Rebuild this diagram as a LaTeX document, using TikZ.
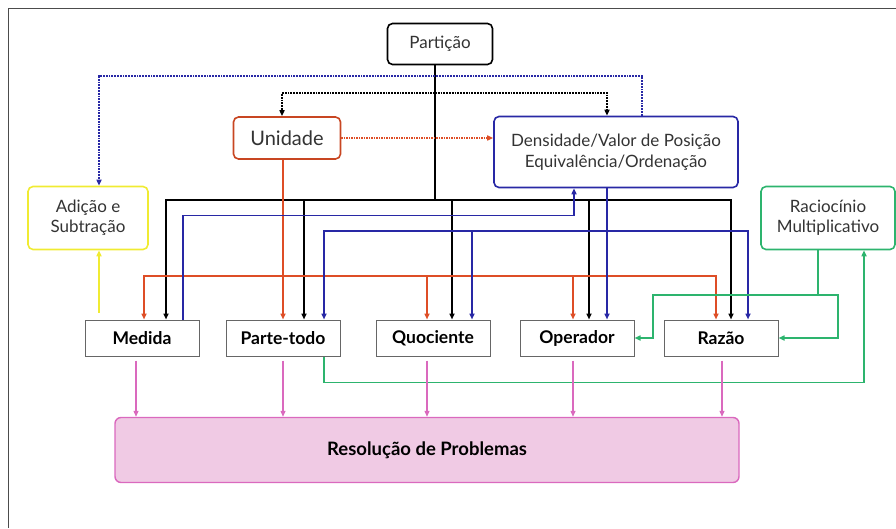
\documentclass[tikz,border=0pt]{standalone}
\usepackage{fontspec}
\setmainfont{Lato}
\usepackage{tikz}
\usetikzlibrary{arrows.meta, positioning}

\definecolor{vermelho}{RGB}{222,78,38}
\definecolor{azulesc}{RGB}{40,40,165}
\definecolor{amarelo}{RGB}{240,235,50}
\definecolor{verde}{RGB}{45,180,110}
\definecolor{rosa}{RGB}{218,105,190}
\definecolor{rosaclaro}{RGB}{240,202,228}

\tikzset{
  >={Triangle[length=6pt,width=5pt]},
  caixa/.style={draw, rounded corners=5pt, line width=1.6pt, align=center, text=black!80, font=\fontsize{17}{20}\selectfont},
  conceito/.style={draw=black!60, line width=1pt, minimum width=114pt, minimum height=36pt, font=\fontsize{17.5}{20}\selectfont\bfseries},
  preto/.style={black, line width=1.8pt},
  verm/.style={vermelho, line width=1.5pt},
  azul/.style={azulesc, line width=1.8pt},
  verd/.style={verde, line width=1.8pt},
  ros/.style={rosa, line width=1.2pt}
}

\begin{document}
\begin{tikzpicture}[x=1pt,y=1pt]
\useasboundingbox (0,0) rectangle (896,528);
\draw[black!70, line width=0.8pt] (8,0) -- (8,520) -- (896,520);

% caixas de cima
\node[caixa, minimum width=105pt, minimum height=41pt] at (440,484) (part) {Partição};
\node[caixa, draw=vermelho!90!black, minimum width=107pt, minimum height=42pt, font=\fontsize{20}{23}\selectfont] at (287,390) (unid) {Unidade};
\node[caixa, draw=azulesc, minimum width=244pt, minimum height=71pt] at (616,376) (dens) {Densidade/Valor de Posição\\[1pt]Equivalência/Ordenação};
\node[caixa, draw=amarelo, minimum width=120pt, minimum height=63pt] at (88,310) (adic) {Adição e\\Subtração};
\node[caixa, draw=verde, minimum width=134pt, minimum height=63pt] at (828,310) (raci) {Raciocínio\\Multiplicativo};

% subconstrutos
\node[conceito] at (142,190) (med) {Medida};
\node[conceito] at (283,190) (pt) {Parte-todo};
\node[conceito] at (433,190) (quoc) {Quociente};
\node[conceito] at (577,190) (oper) {Operador};
\node[conceito] at (721,190) (raz) {Razão};

\node[draw=rosa, fill=rosaclaro, line width=1.4pt, rounded corners=6pt, minimum width=624pt, minimum height=65pt, font=\fontsize{18.5}{21}\selectfont\bfseries] at (427,78) (res) {Resolução de Problemas};

% particao
\coordinate (barra) at (435,328);
\coordinate (pdot) at (435,435);
\draw[preto] ([xshift=-5pt]part.south) -- (barra);
\foreach \n/\dx in {med/24, pt/21, quoc/19, oper/12, raz/10}
  \draw[preto,->] (barra) -| ([xshift=\dx pt]\n.north);
\draw[preto, densely dotted, ->] (pdot) -| ([xshift=-5pt]unid.north);
\draw[preto, densely dotted, ->] (pdot) -| ([xshift=-9pt]dens.north);

% unidade
\coordinate (rbar) at (283,252);
\draw[verm,->] ([xshift=-4pt]unid.south) -- (pt.north);
\foreach \n/\dx in {med/2, quoc/-6, oper/-4, raz/-5}
  \draw[verm,->] (rbar) -| ([xshift=\dx pt]\n.north);
\draw[verm, densely dotted, ->] (unid.east) -- (unid.east -| dens.west);

% densidade
\coordinate (bbar) at (607,297);
\draw[azul,->] ([xshift=-9pt]dens.south) -- ([xshift=30pt]oper.north);
\foreach \n/\dx in {pt/41, quoc/39, raz/27}
  \draw[azul,->] (bbar) -| ([xshift=\dx pt]\n.north);
\draw[azul,->] ([xshift=41pt]med.north) -- ++(0,104) -| ([xshift=-42pt]dens.south);
\draw[azul, densely dotted, ->] ([xshift=26pt]dens.north) -- ++(0,39.5) -| ([xshift=11pt]adic.north);

% adicao
\draw[amarelo, line width=2.2pt, ->] ([xshift=-43pt,yshift=7pt]med.north) -- ([xshift=11pt]adic.south);

% raciocinio
\coordinate (gbar) at (818,233);
\draw[verd] ([xshift=-10pt]raci.south) -- (gbar);
\draw[verd,->] (gbar) -- ++(-165,0) |- (oper.east);
\draw[verd,->] (gbar) -- ++(20,0) |- (raz.east);
\draw[verd,->] ([xshift=41pt]pt.south) -- ++(0,-26) -| ([xshift=36pt]raci.south);

% resolucao
\foreach \n/\dx in {med/-6, pt/0, quoc/-6, oper/-4, raz/1}
  \draw[ros,->] ([xshift=\dx pt,yshift=-4pt]\n.south) coordinate (s) -- (s |- res.north);

\end{tikzpicture}
\end{document}
